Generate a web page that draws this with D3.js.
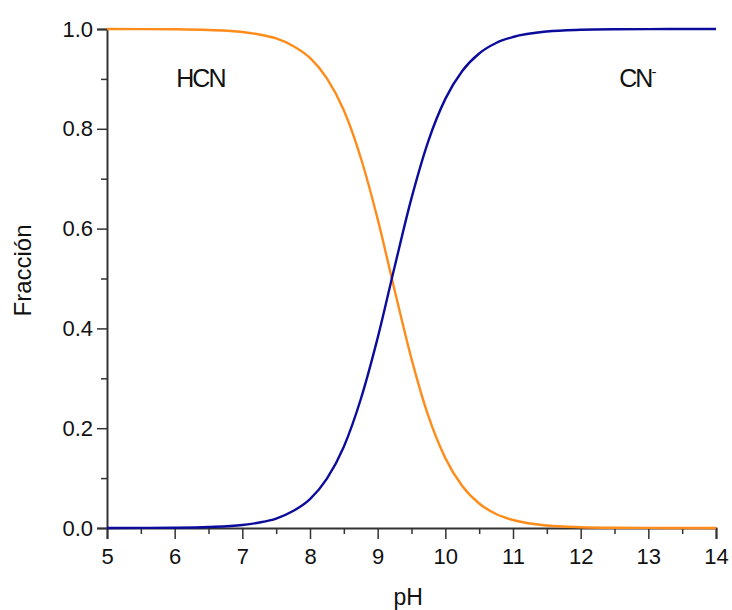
<!DOCTYPE html>
<html>
  <head>
    <meta charset="utf-8">
    <title>HCN / CN- fraccion</title>
    <style>
      body { margin: 0; background: #fff; }
      text { font-family: "Liberation Sans", Arial, sans-serif; fill: #111; }
    </style>
  </head>
  <body>
    <div id="container"></div>
    <script src="https://cdn.jsdelivr.net/npm/d3@7"></script>
    <script>
      // values
      var pH = [5, 5.5, 6, 6.5, 7, 7.25, 7.5, 7.75, 8, 8.25, 8.5, 8.75, 9, 9.25, 9.5,
                9.75, 10, 10.25, 10.5, 10.75, 11, 11.5, 12, 12.5, 13, 13.5, 14];
      var fracHCN = [1.0, 0.9998, 0.9994, 0.998, 0.994, 0.989, 0.981, 0.966, 0.942, 0.901, 0.837, 0.742, 0.619, 0.477, 0.339,
                     0.224, 0.140, 0.084, 0.049, 0.028, 0.016, 0.005, 0.0016, 0.0005, 0.0002, 0.0001, 0.0];
      var fracCN = [0.0, 0.0002, 0.0006, 0.002, 0.006, 0.011, 0.019, 0.034, 0.058, 0.099, 0.163, 0.258, 0.381, 0.523, 0.661,
                    0.776, 0.860, 0.916, 0.951, 0.972, 0.984, 0.995, 0.9984, 0.9995, 0.9998, 0.9999, 1.0];
      var xTicks = [5, 6, 7, 8, 9, 10, 11, 12, 13, 14];
      var yTicks = [0.0, 0.2, 0.4, 0.6, 0.8, 1.0];

      var margin = {top: 29, right: 16, bottom: 82, left: 107},
        width = 732 - margin.left - margin.right,
        height = 610 - margin.top - margin.bottom;

      var x = d3.scaleLinear().domain([5, 14]).range([0, width]);
      var y = d3.scaleLinear().domain([0, 1]).range([height, 0]);

      var svg = d3.select("#container").append("svg")
          .attr("width", 732)
          .attr("height", 610)
        .append("g")
          .attr("transform", "translate(" + margin.left + "," + margin.top + ")");

      var line = d3.line()
        .x(function(d) { return x(d[0]); })
        .y(function(d) { return y(d[1]); })
        .curve(d3.curveMonotoneX);

      // minor ticks first
      svg.append("g")
          .attr("transform", "translate(0," + height + ")")
          .call(d3.axisBottom(x).tickValues(d3.range(5.5, 14, 1)).tickSize(6).tickFormat(""))
          .call(function(g) { g.select(".domain").remove(); });
      svg.append("g")
          .call(d3.axisLeft(y).tickValues([0.1, 0.3, 0.5, 0.7, 0.9]).tickSize(6).tickFormat(""))
          .call(function(g) { g.select(".domain").remove(); });

      var xAxis = svg.append("g")
          .attr("transform", "translate(0," + height + ")")
          .call(d3.axisBottom(x).tickValues(xTicks).tickSize(11).tickPadding(9).tickFormat(d3.format("d")));
      var yAxis = svg.append("g")
          .call(d3.axisLeft(y).tickValues(yTicks).tickSize(10).tickPadding(4).tickFormat(d3.format(".1f")));

      svg.selectAll(".tick line").attr("stroke", "#333").attr("stroke-width", 1.5);
      svg.selectAll(".domain").attr("stroke", "#333").attr("stroke-width", 2);
      svg.selectAll(".tick text")
          .attr("font-size", 22)
          .style("font-size", "22px")
          .attr("fill", "#111");

      svg.append("path")
          .datum(d3.zip(pH, fracHCN))
          .attr("d", line)
          .attr("fill", "none")
          .attr("stroke", "#ff8c1a")
          .attr("stroke-width", 2.4);

      svg.append("path")
          .datum(d3.zip(pH, fracCN))
          .attr("d", line)
          .attr("fill", "none")
          .attr("stroke", "#0c0c9c")
          .attr("stroke-width", 2.4);

      // species labels
      svg.append("text")
          .attr("x", x(6.38))
          .attr("y", y(0.9) + 8)
          .attr("text-anchor", "middle")
          .style("font-size", "25px")
          .style("letter-spacing", "-2px")
          .text("HCN");
      var cn = svg.append("text")
          .attr("x", x(12.83))
          .attr("y", y(0.9) + 8)
          .attr("text-anchor", "middle")
          .style("font-size", "25px")
          .style("letter-spacing", "-2px");
      cn.append("tspan").text("CN");
      cn.append("tspan").attr("dy", -10).style("font-size", "15px").text("-");

      // axis titles
      svg.append("text")
          .attr("x", x(9.45))
          .attr("y", height + 77)
          .attr("text-anchor", "middle")
          .style("font-size", "23px")
          .text("pH");
      svg.append("text")
          .attr("transform", "translate(" + (-76) + "," + (height / 2 - 8) + ") rotate(-90)")
          .attr("text-anchor", "middle")
          .style("font-size", "24px")
          .text("Fracción");
    </script>
  </body>
</html>
